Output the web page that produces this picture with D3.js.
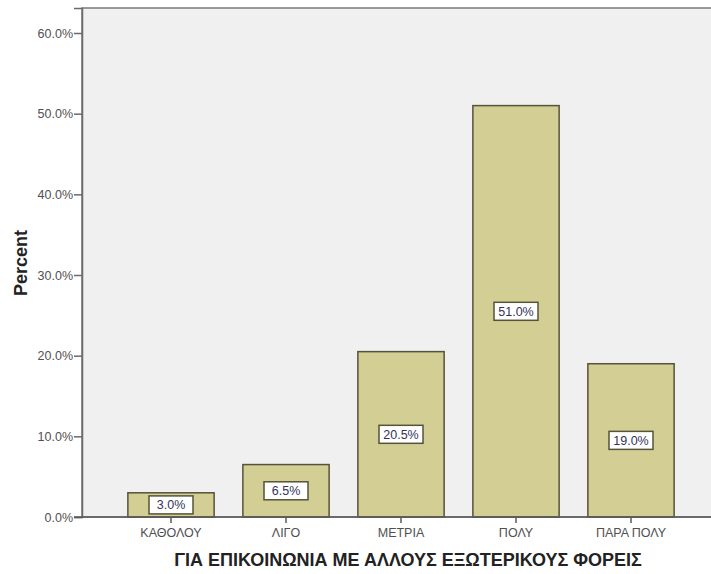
<!DOCTYPE html>
<html><head><meta charset="utf-8">
<script src="https://cdn.jsdelivr.net/npm/d3@7"></script>
<style>body{margin:0;background:#fff}svg{display:block}</style>
</head><body>
<svg id="c" width="711" height="574"></svg>
<script>
const categories = ["ΚΑΘΟΛΟΥ","ΛΙΓΟ","ΜΕΤΡΙΑ","ΠΟΛΥ","ΠΑΡΑ ΠΟΛΥ"];
const percents = [3.0, 6.5, 20.5, 51.0, 19.0];
const yTicks = [0,10,20,30,40,50,60];
const xTitle = "ΓΙΑ ΕΠΙΚΟΙΝΩΝΙΑ ΜΕ ΑΛΛΟΥΣ ΕΞΩΤΕΡΙΚΟΥΣ ΦΟΡΕΙΣ";
const yTitle = "Percent";

const svg = d3.select("#c");
const plot = {left:82, top:8, right:712, bottom:517};
const y = d3.scaleLinear().domain([0,63.1]).range([plot.bottom, plot.top]);
const x = d3.scaleBand().domain(categories).range([113.5, 688.5]).paddingInner(0.25).paddingOuter(0.125);

svg.append("rect").attr("x",plot.left).attr("y",plot.top)
  .attr("width",plot.right-plot.left).attr("height",plot.bottom-plot.top)
  .attr("fill","#f0f0f0").attr("stroke","#7a7a7a").attr("stroke-width",1.5);

const font = "Arial, 'Liberation Sans', sans-serif";

// bars
svg.selectAll("rect.bar").data(percents).enter().append("rect")
  .attr("class","bar")
  .attr("x",(d,i)=>x(categories[i]))
  .attr("width",x.bandwidth())
  .attr("y",d=>y(d))
  .attr("height",d=>y(0)-y(d))
  .attr("fill","#d3ce94").attr("stroke","#55533a").attr("stroke-width",1.5);

// y axis
const yAxis = d3.axisLeft(y).tickValues(yTicks).tickSize(8).tickPadding(1)
  .tickFormat(d=>d3.format(".1f")(d)+"%");
const ga = svg.append("g").attr("transform",`translate(${plot.left},0)`).call(yAxis);
ga.select(".domain").attr("stroke","#6a6a6a").attr("stroke-width",1.5);
ga.selectAll(".tick line").attr("stroke","#6a6a6a").attr("stroke-width",1.5);
ga.selectAll(".tick text").attr("font-family",font).attr("font-size",12.5).attr("fill","#505050");

// x axis
const xAxis = d3.axisBottom(x).tickSize(6).tickPadding(5);
const gx = svg.append("g").attr("transform",`translate(0,${plot.bottom})`).call(xAxis);
gx.select(".domain").remove();
gx.append("line").attr("x1",plot.left-8).attr("x2",plot.right).attr("y1",0).attr("y2",0)
  .attr("stroke","#5a5a5a").attr("stroke-width",1.5);
gx.selectAll(".tick line").attr("stroke","#5a5a5a").attr("stroke-width",1.5);
gx.selectAll(".tick text").attr("font-family",font).attr("font-size",12.5).attr("fill","#505050");

// labels
const lab = svg.selectAll("g.lab").data(percents).enter().append("g").attr("class","lab")
  .attr("transform",(d,i)=>`translate(${x(categories[i])+x.bandwidth()/2},${(y(0)+y(d))/2})`);
lab.append("rect").attr("x",-22).attr("y",-9).attr("width",44).attr("height",18)
  .attr("fill","#fff").attr("stroke","#55533a").attr("stroke-width",1.5);
lab.append("text").attr("text-anchor","middle").attr("dy","0.36em")
  .attr("font-family",font).attr("font-size",12.5).attr("fill","#33335a")
  .text(d=>d3.format(".1f")(d)+"%");

// titles
svg.append("text").attr("x",408).attr("y",566).attr("text-anchor","middle")
  .attr("font-family",font).attr("font-size",18).attr("font-weight","bold").attr("fill","#222")
  .text(xTitle);
svg.append("text").attr("transform","translate(27,263) rotate(-90)").attr("text-anchor","middle")
  .attr("font-family",font).attr("font-size",18).attr("font-weight","bold").attr("fill","#222")
  .text(yTitle);
</script>
</body></html>
